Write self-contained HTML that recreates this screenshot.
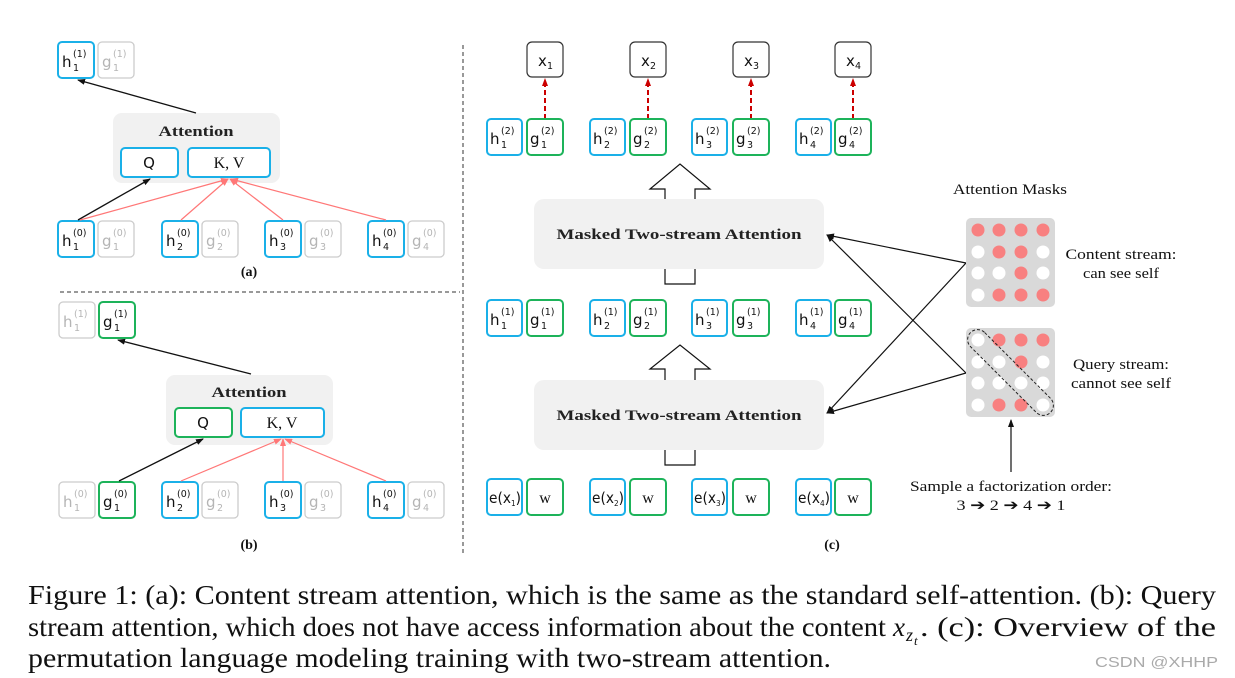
<!DOCTYPE html>
<html><head><meta charset="utf-8"><style>
html,body{margin:0;padding:0;background:#fff;}
svg{display:block;}
.t{font-family:"DejaVu Sans",sans-serif;font-size:15px;fill:#111;}
.s{font-family:"DejaVu Sans",sans-serif;font-size:9.5px;fill:#111;}
.tg{font-family:"DejaVu Sans",sans-serif;font-size:15px;fill:#b5b5b5;}
.sg{font-family:"DejaVu Sans",sans-serif;font-size:9.5px;fill:#b5b5b5;}
.serif{font-family:"Liberation Serif",serif;fill:#111;}
.bold{font-family:"Liberation Serif",serif;font-weight:bold;font-size:15px;fill:#222;}
</style></head><body>
<svg width="1235" height="678" viewBox="0 0 1235 678" xmlns="http://www.w3.org/2000/svg">
<defs>
<marker id="ab" markerWidth="8" markerHeight="6" refX="7" refY="3" orient="auto" markerUnits="userSpaceOnUse"><path d="M0,0 L8,3 L0,6 z" fill="#111"/></marker>
<marker id="ar" markerWidth="8" markerHeight="6" refX="7" refY="3" orient="auto" markerUnits="userSpaceOnUse"><path d="M0,0 L8,3 L0,6 z" fill="#f77"/></marker>
<marker id="ad" markerWidth="8" markerHeight="6" refX="7" refY="3" orient="auto" markerUnits="userSpaceOnUse"><path d="M0,0 L8,3 L0,6 z" fill="#c00"/></marker>
</defs>

<line x1="463" y1="45" x2="463" y2="555" stroke="#333" stroke-dasharray="4,3"/>
<line x1="60" y1="292" x2="460" y2="292" stroke="#333" stroke-dasharray="4,3"/>

<!-- ===== Panel (a) ===== -->
<rect x="113" y="113" width="167" height="70" rx="9" fill="#f1f1f1"/>
<text x="196" y="136" class="bold" text-anchor="middle" textLength="75" lengthAdjust="spacingAndGlyphs">Attention</text>
<rect x="121" y="148" width="57" height="29" rx="4" fill="#fff" stroke="#1ab0e8" stroke-width="2"/>
<text x="149" y="168" class="t" text-anchor="middle">Q</text>
<rect x="188" y="148" width="82" height="29" rx="4" fill="#fff" stroke="#1ab0e8" stroke-width="2"/>
<text x="229" y="168" class="serif" font-size="16" text-anchor="middle">K, V</text>

<rect x="58" y="42" width="36" height="36" rx="4" fill="#fff" stroke="#1ab0e8" stroke-width="2"/>
<text x="62" y="67" class="t">h</text><text x="73" y="57" class="s">(1)</text><text x="73" y="71" class="s">1</text>
<rect x="98" y="42" width="36" height="36" rx="4" fill="#fff" stroke="#ccc" stroke-width="1.3"/>
<text x="102" y="67" class="tg">g</text><text x="113" y="57" class="sg">(1)</text><text x="113" y="71" class="sg">1</text>

<rect x="58" y="221" width="36" height="36" rx="4" fill="#fff" stroke="#1ab0e8" stroke-width="2"/>
<text x="62" y="246" class="t">h</text><text x="73" y="236" class="s">(0)</text><text x="73" y="250" class="s">1</text>
<rect x="98" y="221" width="36" height="36" rx="4" fill="#fff" stroke="#ccc" stroke-width="1.3"/>
<text x="102" y="246" class="tg">g</text><text x="113" y="236" class="sg">(0)</text><text x="113" y="250" class="sg">1</text>
<rect x="162" y="221" width="36" height="36" rx="4" fill="#fff" stroke="#1ab0e8" stroke-width="2"/>
<text x="166" y="246" class="t">h</text><text x="177" y="236" class="s">(0)</text><text x="177" y="250" class="s">2</text>
<rect x="202" y="221" width="36" height="36" rx="4" fill="#fff" stroke="#ccc" stroke-width="1.3"/>
<text x="206" y="246" class="tg">g</text><text x="217" y="236" class="sg">(0)</text><text x="217" y="250" class="sg">2</text>
<rect x="265" y="221" width="36" height="36" rx="4" fill="#fff" stroke="#1ab0e8" stroke-width="2"/>
<text x="269" y="246" class="t">h</text><text x="280" y="236" class="s">(0)</text><text x="280" y="250" class="s">3</text>
<rect x="305" y="221" width="36" height="36" rx="4" fill="#fff" stroke="#ccc" stroke-width="1.3"/>
<text x="309" y="246" class="tg">g</text><text x="320" y="236" class="sg">(0)</text><text x="320" y="250" class="sg">3</text>
<rect x="368" y="221" width="36" height="36" rx="4" fill="#fff" stroke="#1ab0e8" stroke-width="2"/>
<text x="372" y="246" class="t">h</text><text x="383" y="236" class="s">(0)</text><text x="383" y="250" class="s">4</text>
<rect x="408" y="221" width="36" height="36" rx="4" fill="#fff" stroke="#ccc" stroke-width="1.3"/>
<text x="412" y="246" class="tg">g</text><text x="423" y="236" class="sg">(0)</text><text x="423" y="250" class="sg">4</text>

<line x1="196" y1="113" x2="78" y2="80" stroke="#111" stroke-width="1.3" marker-end="url(#ab)"/>
<line x1="78" y1="220" x2="150" y2="179" stroke="#111" stroke-width="1.3" marker-end="url(#ab)"/>
<g stroke="#f77" stroke-width="1.2" marker-end="url(#ar)">
<line x1="80" y1="220" x2="228" y2="179"/>
<line x1="181" y1="220" x2="228" y2="179"/>
<line x1="283" y1="220" x2="230" y2="179"/>
<line x1="386" y1="220" x2="231" y2="179"/>
</g>
<text x="249" y="276" class="serif" font-size="14" font-weight="bold" text-anchor="middle">(a)</text>

<!-- ===== Panel (b) ===== -->
<rect x="166" y="375" width="167" height="70" rx="9" fill="#f1f1f1"/>
<text x="249" y="397" class="bold" text-anchor="middle" textLength="75" lengthAdjust="spacingAndGlyphs">Attention</text>
<rect x="175" y="408" width="57" height="29" rx="4" fill="#fff" stroke="#1db35a" stroke-width="2"/>
<text x="203" y="428" class="t" text-anchor="middle">Q</text>
<rect x="241" y="408" width="83" height="29" rx="4" fill="#fff" stroke="#1ab0e8" stroke-width="2"/>
<text x="282" y="428" class="serif" font-size="16" text-anchor="middle">K, V</text>

<rect x="59" y="302" width="36" height="36" rx="4" fill="#fff" stroke="#ccc" stroke-width="1.3"/>
<text x="63" y="327" class="tg">h</text><text x="74" y="317" class="sg">(1)</text><text x="74" y="331" class="sg">1</text>
<rect x="99" y="302" width="36" height="36" rx="4" fill="#fff" stroke="#1db35a" stroke-width="2"/>
<text x="103" y="327" class="t">g</text><text x="114" y="317" class="s">(1)</text><text x="114" y="331" class="s">1</text>

<rect x="59" y="482" width="36" height="36" rx="4" fill="#fff" stroke="#ccc" stroke-width="1.3"/>
<text x="63" y="507" class="tg">h</text><text x="74" y="497" class="sg">(0)</text><text x="74" y="511" class="sg">1</text>
<rect x="99" y="482" width="36" height="36" rx="4" fill="#fff" stroke="#1db35a" stroke-width="2"/>
<text x="103" y="507" class="t">g</text><text x="114" y="497" class="s">(0)</text><text x="114" y="511" class="s">1</text>
<rect x="162" y="482" width="36" height="36" rx="4" fill="#fff" stroke="#1ab0e8" stroke-width="2"/>
<text x="166" y="507" class="t">h</text><text x="177" y="497" class="s">(0)</text><text x="177" y="511" class="s">2</text>
<rect x="202" y="482" width="36" height="36" rx="4" fill="#fff" stroke="#ccc" stroke-width="1.3"/>
<text x="206" y="507" class="tg">g</text><text x="217" y="497" class="sg">(0)</text><text x="217" y="511" class="sg">2</text>
<rect x="265" y="482" width="36" height="36" rx="4" fill="#fff" stroke="#1ab0e8" stroke-width="2"/>
<text x="269" y="507" class="t">h</text><text x="280" y="497" class="s">(0)</text><text x="280" y="511" class="s">3</text>
<rect x="305" y="482" width="36" height="36" rx="4" fill="#fff" stroke="#ccc" stroke-width="1.3"/>
<text x="309" y="507" class="tg">g</text><text x="320" y="497" class="sg">(0)</text><text x="320" y="511" class="sg">3</text>
<rect x="368" y="482" width="36" height="36" rx="4" fill="#fff" stroke="#1ab0e8" stroke-width="2"/>
<text x="372" y="507" class="t">h</text><text x="383" y="497" class="s">(0)</text><text x="383" y="511" class="s">4</text>
<rect x="408" y="482" width="36" height="36" rx="4" fill="#fff" stroke="#ccc" stroke-width="1.3"/>
<text x="412" y="507" class="tg">g</text><text x="423" y="497" class="sg">(0)</text><text x="423" y="511" class="sg">4</text>

<line x1="251" y1="374" x2="118" y2="340" stroke="#111" stroke-width="1.3" marker-end="url(#ab)"/>
<line x1="119" y1="481" x2="203" y2="439" stroke="#111" stroke-width="1.3" marker-end="url(#ab)"/>
<g stroke="#f77" stroke-width="1.2" marker-end="url(#ar)">
<line x1="181" y1="481" x2="281" y2="439"/>
<line x1="283" y1="481" x2="283" y2="439"/>
<line x1="386" y1="481" x2="285" y2="439"/>
</g>
<text x="249" y="549" class="serif" font-size="14" font-weight="bold" text-anchor="middle">(b)</text>

<!-- ===== Panel (c) ===== -->
<rect x="527" y="42" width="36" height="35" rx="5" fill="#fff" stroke="#333" stroke-width="1.2"/>
<text x="538" y="66" class="t">x</text><text x="547" y="69" class="s">1</text>
<rect x="630" y="42" width="36" height="35" rx="5" fill="#fff" stroke="#333" stroke-width="1.2"/>
<text x="641" y="66" class="t">x</text><text x="650" y="69" class="s">2</text>
<rect x="733" y="42" width="36" height="35" rx="5" fill="#fff" stroke="#333" stroke-width="1.2"/>
<text x="744" y="66" class="t">x</text><text x="753" y="69" class="s">3</text>
<rect x="835" y="42" width="36" height="35" rx="5" fill="#fff" stroke="#333" stroke-width="1.2"/>
<text x="846" y="66" class="t">x</text><text x="855" y="69" class="s">4</text>
<g stroke="#c00" stroke-width="2" stroke-dasharray="5,3" marker-end="url(#ad)">
<line x1="545" y1="119" x2="545" y2="79"/>
<line x1="648" y1="119" x2="648" y2="79"/>
<line x1="751" y1="119" x2="751" y2="79"/>
<line x1="853" y1="119" x2="853" y2="79"/>
</g>

<rect x="487" y="119" width="35" height="36" rx="4" fill="#fff" stroke="#1ab0e8" stroke-width="2"/>
<text x="490" y="144" class="t">h</text><text x="501" y="134" class="s">(2)</text><text x="501" y="148" class="s">1</text>
<rect x="527" y="119" width="36" height="36" rx="4" fill="#fff" stroke="#1db35a" stroke-width="2"/>
<text x="530" y="144" class="t">g</text><text x="541" y="134" class="s">(2)</text><text x="541" y="148" class="s">1</text>
<rect x="590" y="119" width="35" height="36" rx="4" fill="#fff" stroke="#1ab0e8" stroke-width="2"/>
<text x="593" y="144" class="t">h</text><text x="604" y="134" class="s">(2)</text><text x="604" y="148" class="s">2</text>
<rect x="630" y="119" width="36" height="36" rx="4" fill="#fff" stroke="#1db35a" stroke-width="2"/>
<text x="633" y="144" class="t">g</text><text x="644" y="134" class="s">(2)</text><text x="644" y="148" class="s">2</text>
<rect x="692" y="119" width="35" height="36" rx="4" fill="#fff" stroke="#1ab0e8" stroke-width="2"/>
<text x="695" y="144" class="t">h</text><text x="706" y="134" class="s">(2)</text><text x="706" y="148" class="s">3</text>
<rect x="733" y="119" width="36" height="36" rx="4" fill="#fff" stroke="#1db35a" stroke-width="2"/>
<text x="736" y="144" class="t">g</text><text x="747" y="134" class="s">(2)</text><text x="747" y="148" class="s">3</text>
<rect x="796" y="119" width="35" height="36" rx="4" fill="#fff" stroke="#1ab0e8" stroke-width="2"/>
<text x="799" y="144" class="t">h</text><text x="810" y="134" class="s">(2)</text><text x="810" y="148" class="s">4</text>
<rect x="835" y="119" width="36" height="36" rx="4" fill="#fff" stroke="#1db35a" stroke-width="2"/>
<text x="838" y="144" class="t">g</text><text x="849" y="134" class="s">(2)</text><text x="849" y="148" class="s">4</text>

<rect x="487" y="300" width="35" height="36" rx="4" fill="#fff" stroke="#1ab0e8" stroke-width="2"/>
<text x="490" y="325" class="t">h</text><text x="501" y="315" class="s">(1)</text><text x="501" y="329" class="s">1</text>
<rect x="527" y="300" width="36" height="36" rx="4" fill="#fff" stroke="#1db35a" stroke-width="2"/>
<text x="530" y="325" class="t">g</text><text x="541" y="315" class="s">(1)</text><text x="541" y="329" class="s">1</text>
<rect x="590" y="300" width="35" height="36" rx="4" fill="#fff" stroke="#1ab0e8" stroke-width="2"/>
<text x="593" y="325" class="t">h</text><text x="604" y="315" class="s">(1)</text><text x="604" y="329" class="s">2</text>
<rect x="630" y="300" width="36" height="36" rx="4" fill="#fff" stroke="#1db35a" stroke-width="2"/>
<text x="633" y="325" class="t">g</text><text x="644" y="315" class="s">(1)</text><text x="644" y="329" class="s">2</text>
<rect x="692" y="300" width="35" height="36" rx="4" fill="#fff" stroke="#1ab0e8" stroke-width="2"/>
<text x="695" y="325" class="t">h</text><text x="706" y="315" class="s">(1)</text><text x="706" y="329" class="s">3</text>
<rect x="733" y="300" width="36" height="36" rx="4" fill="#fff" stroke="#1db35a" stroke-width="2"/>
<text x="736" y="325" class="t">g</text><text x="747" y="315" class="s">(1)</text><text x="747" y="329" class="s">3</text>
<rect x="796" y="300" width="35" height="36" rx="4" fill="#fff" stroke="#1ab0e8" stroke-width="2"/>
<text x="799" y="325" class="t">h</text><text x="810" y="315" class="s">(1)</text><text x="810" y="329" class="s">4</text>
<rect x="835" y="300" width="36" height="36" rx="4" fill="#fff" stroke="#1db35a" stroke-width="2"/>
<text x="838" y="325" class="t">g</text><text x="849" y="315" class="s">(1)</text><text x="849" y="329" class="s">4</text>

<rect x="487" y="479" width="35" height="36" rx="4" fill="#fff" stroke="#1ab0e8" stroke-width="2"/>
<text x="489" y="503" class="t" font-size="12" textLength="32" lengthAdjust="spacingAndGlyphs">e(x<tspan font-size="8" dy="3">1</tspan><tspan dy="-3">)</tspan></text>
<rect x="527" y="479" width="36" height="36" rx="4" fill="#fff" stroke="#1db35a" stroke-width="2"/>
<text x="545" y="503" class="serif" font-size="16" text-anchor="middle">w</text>
<rect x="590" y="479" width="35" height="36" rx="4" fill="#fff" stroke="#1ab0e8" stroke-width="2"/>
<text x="592" y="503" class="t" font-size="12" textLength="32" lengthAdjust="spacingAndGlyphs">e(x<tspan font-size="8" dy="3">2</tspan><tspan dy="-3">)</tspan></text>
<rect x="630" y="479" width="36" height="36" rx="4" fill="#fff" stroke="#1db35a" stroke-width="2"/>
<text x="648" y="503" class="serif" font-size="16" text-anchor="middle">w</text>
<rect x="692" y="479" width="35" height="36" rx="4" fill="#fff" stroke="#1ab0e8" stroke-width="2"/>
<text x="694" y="503" class="t" font-size="12" textLength="32" lengthAdjust="spacingAndGlyphs">e(x<tspan font-size="8" dy="3">3</tspan><tspan dy="-3">)</tspan></text>
<rect x="733" y="479" width="36" height="36" rx="4" fill="#fff" stroke="#1db35a" stroke-width="2"/>
<text x="751" y="503" class="serif" font-size="16" text-anchor="middle">w</text>
<rect x="796" y="479" width="35" height="36" rx="4" fill="#fff" stroke="#1ab0e8" stroke-width="2"/>
<text x="798" y="503" class="t" font-size="12" textLength="32" lengthAdjust="spacingAndGlyphs">e(x<tspan font-size="8" dy="3">4</tspan><tspan dy="-3">)</tspan></text>
<rect x="835" y="479" width="36" height="36" rx="4" fill="#fff" stroke="#1db35a" stroke-width="2"/>
<text x="853" y="503" class="serif" font-size="16" text-anchor="middle">w</text>

<path d="M665,284 L665,189 L650,189 L680,164 L710,189 L695,189 L695,284 Z" fill="#fff" stroke="#111" stroke-width="1.2"/>
<path d="M665,465 L665,369 L650,369 L680,345 L710,369 L695,369 L695,465 Z" fill="#fff" stroke="#111" stroke-width="1.2"/>

<rect x="534" y="199" width="290" height="70" rx="10" fill="#f1f1f1"/>
<text x="679" y="239" class="bold" font-size="15.5" text-anchor="middle" textLength="245" lengthAdjust="spacingAndGlyphs">Masked Two-stream Attention</text>
<rect x="534" y="380" width="290" height="70" rx="10" fill="#f1f1f1"/>
<text x="679" y="420" class="bold" font-size="15.5" text-anchor="middle" textLength="245" lengthAdjust="spacingAndGlyphs">Masked Two-stream Attention</text>

<g stroke="#111" stroke-width="1.2" marker-end="url(#ab)" fill="none">
<line x1="966" y1="263" x2="827" y2="235"/>
<line x1="966" y1="263" x2="827" y2="413"/>
<line x1="966" y1="373" x2="827" y2="235"/>
<line x1="966" y1="373" x2="827" y2="413"/>
</g>

<text x="1010" y="194" class="serif" font-size="15" text-anchor="middle" textLength="114" lengthAdjust="spacingAndGlyphs">Attention Masks</text>
<rect x="966" y="218" width="89" height="89" rx="5" fill="#d9d9d9"/>
<g fill="#fff">
<circle cx="978" cy="252" r="6.5"/><circle cx="1043" cy="252" r="6.5"/>
<circle cx="978" cy="273" r="6.5"/><circle cx="999" cy="273" r="6.5"/><circle cx="1043" cy="273" r="6.5"/>
<circle cx="978" cy="295" r="6.5"/>
</g>
<g fill="#f88080">
<circle cx="978" cy="230" r="6.5"/><circle cx="999" cy="230" r="6.5"/><circle cx="1021" cy="230" r="6.5"/><circle cx="1043" cy="230" r="6.5"/>
<circle cx="999" cy="252" r="6.5"/><circle cx="1021" cy="252" r="6.5"/>
<circle cx="1021" cy="273" r="6.5"/>
<circle cx="999" cy="295" r="6.5"/><circle cx="1021" cy="295" r="6.5"/><circle cx="1043" cy="295" r="6.5"/>
</g>
<text x="1121" y="259" class="serif" font-size="15" text-anchor="middle" textLength="111" lengthAdjust="spacingAndGlyphs">Content stream:</text>
<text x="1121" y="278" class="serif" font-size="15" text-anchor="middle" textLength="76" lengthAdjust="spacingAndGlyphs">can see self</text>

<rect x="966" y="328" width="89" height="89" rx="5" fill="#d9d9d9"/>
<g fill="#fff">
<circle cx="978" cy="340" r="6.5"/>
<circle cx="978" cy="362" r="6.5"/><circle cx="999" cy="362" r="6.5"/><circle cx="1043" cy="362" r="6.5"/>
<circle cx="978" cy="383" r="6.5"/><circle cx="999" cy="383" r="6.5"/><circle cx="1021" cy="383" r="6.5"/><circle cx="1043" cy="383" r="6.5"/>
<circle cx="978" cy="405" r="6.5"/><circle cx="1043" cy="405" r="6.5"/>
</g>
<g fill="#f88080">
<circle cx="999" cy="340" r="6.5"/><circle cx="1021" cy="340" r="6.5"/><circle cx="1043" cy="340" r="6.5"/>
<circle cx="1021" cy="362" r="6.5"/>
<circle cx="999" cy="405" r="6.5"/><circle cx="1021" cy="405" r="6.5"/>
</g>
<rect x="954" y="362.5" width="113" height="20" rx="10" fill="none" stroke="#222" stroke-width="1" stroke-dasharray="3,2" transform="rotate(45 1010.5 372.5)"/>
<text x="1121" y="369" class="serif" font-size="15" text-anchor="middle" textLength="96" lengthAdjust="spacingAndGlyphs">Query stream:</text>
<text x="1121" y="388" class="serif" font-size="15" text-anchor="middle" textLength="100" lengthAdjust="spacingAndGlyphs">cannot see self</text>

<line x1="1011" y1="472" x2="1011" y2="420" stroke="#111" stroke-width="1.2" marker-end="url(#ab)"/>
<text x="1011" y="491" class="serif" font-size="15" text-anchor="middle" textLength="202" lengthAdjust="spacingAndGlyphs">Sample a factorization order:</text>
<text x="1011" y="510" class="serif" font-size="15" text-anchor="middle" textLength="109" lengthAdjust="spacingAndGlyphs">3 ➔ 2 ➔ 4 ➔ 1</text>

<text x="832" y="549" class="serif" font-size="14" font-weight="bold" text-anchor="middle">(c)</text>

<text x="28" y="604" class="serif" font-size="27" textLength="1188" lengthAdjust="spacingAndGlyphs">Figure 1: (a): Content stream attention, which is the same as the standard self-attention. (b): Query</text>
<text x="28" y="636" class="serif" font-size="27" textLength="858" lengthAdjust="spacingAndGlyphs">stream attention, which does not have access information about the content</text>
<text x="893" y="636" class="serif" font-size="27" font-style="italic">x</text>
<text x="906" y="641" class="serif" font-size="18" font-style="italic">z</text>
<text x="914" y="645" class="serif" font-size="13" font-style="italic">t</text>
<text x="920" y="636" class="serif" font-size="27" textLength="296" lengthAdjust="spacingAndGlyphs">. (c): Overview of the</text>
<text x="28" y="667" class="serif" font-size="27" textLength="803" lengthAdjust="spacingAndGlyphs">permutation language modeling training with two-stream attention.</text>
<text x="1095" y="667" font-family="Liberation Sans, sans-serif" font-size="15" fill="#aaa" textLength="123" lengthAdjust="spacingAndGlyphs">CSDN @XHHP</text>
</svg>
</body></html>
